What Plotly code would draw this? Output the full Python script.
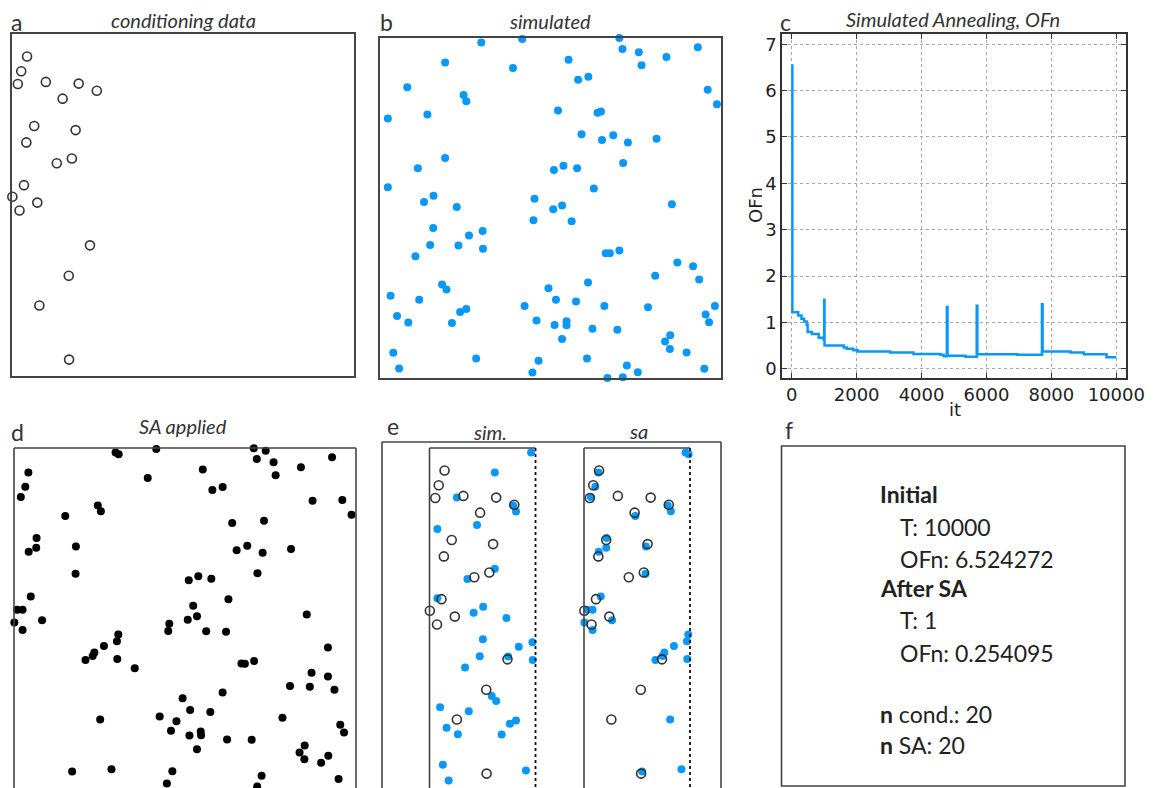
import plotly.graph_objects as go

W, H = 1154, 788

# ---------------- data ----------------
# conditioning data (domain units 0..100)
cond_x = [4.4, 2.7, 1.7, 9.9, 19.5, 24.8, 14.8, 6.5, 18.6, 4.2, 13.1, 17.5, 3.5, 0.1, 7.4, 2.2, 22.8, 16.6, 8.0, 16.7]
cond_y = [93.4, 89.1, 85.4, 86.0, 85.5, 83.4, 81.1, 73.1, 71.9, 68.3, 62.2, 63.6, 55.8, 52.4, 50.7, 48.4, 38.2, 29.3, 20.6, 4.8]

# simulated points
sim_x = [29.7, 41.7, 70.2, 71.1, 75.9, 76.7, 84.0, 93.2, 19.1, 39.0, 55.3, 58.1, 61.1, 8.0, 24.5, 25.3, 96.1, 98.8, 2.3, 13.9,
         52.2, 63.8, 64.8, 59.1, 65.1, 68.4, 72.7, 81.1, 19.1, 11.1, 51.0, 53.8, 57.8, 71.3, 2.3, 62.7, 12.9, 15.7, 22.5, 45.3,
         50.8, 53.4, 45.0, 56.2, 85.6, 15.6, 26.1, 30.1, 30.2, 14.7, 23.0, 10.4, 66.2, 67.4, 70.2, 87.2, 91.8, 93.6, 80.7, 61.0,
         18.2, 19.5, 49.4, 3.1, 11.5, 51.6, 57.5, 65.8, 78.6, 98.2, 42.4, 5.0, 8.3, 21.1, 23.5, 25.3, 45.9, 51.2, 54.7, 54.7,
         62.3, 69.6, 95.5, 96.5, 53.4, 85.1, 83.6, 85.0, 89.9, 3.9, 5.6, 28.2, 46.5, 44.7, 60.7, 72.4, 75.6, 66.7, 71.2, 95.1]
sim_y = [98.7, 99.7, 100.0, 96.8, 95.8, 92.0, 94.4, 97.3, 92.8, 91.2, 93.6, 87.7, 88.6, 85.5, 83.2, 81.4, 84.8, 80.5, 76.3, 77.5,
         78.7, 78.0, 78.4, 71.7, 70.0, 71.4, 69.3, 70.4, 64.7, 61.7, 61.2, 62.4, 61.7, 63.2, 56.1, 55.7, 51.8, 53.6, 50.3, 52.7,
         49.6, 50.7, 46.4, 46.1, 51.1, 44.1, 41.9, 43.2, 38.0, 39.1, 39.0, 35.8, 36.7, 36.7, 37.5, 34.0, 32.9, 29.0, 30.1, 28.1,
         27.5, 26.0, 26.4, 24.2, 23.0, 23.0, 22.5, 21.2, 20.8, 21.2, 21.2, 18.2, 16.3, 16.2, 19.4, 20.3, 16.9, 15.6, 16.7, 15.5,
         14.5, 14.2, 18.7, 16.4, 11.5, 12.6, 10.7, 8.5, 7.5, 7.4, 2.8, 5.7, 5.1, 1.6, 5.7, 3.7, 1.7, 0.0, 0.2, 2.7]

# points after simulated annealing
sa_x = [29.7, 30.6, 41.6, 70.1, 73.6, 71.0, 75.9, 76.5, 83.9, 93.0, 55.2, 39.1, 58.0, 61.0, 4.2, 3.3, 2.0, 87.3, 96.0, 98.7,
        15.0, 24.5, 25.4, 63.8, 73.1, 6.6, 6.5, 4.3, 18.1, 65.1, 68.2, 72.7, 81.0, 18.0, 71.2, 51.1, 53.9, 57.7, 4.9, 62.7,
        0.9, 2.5, 0.1, 8.2, 2.5, 52.4, 50.8, 53.5, 45.4, 45.1, 56.2, 62.0, 85.6, 30.5, 30.1, 26.3, 23.5, 23.0, 20.9, 30.2,
        35.3, 66.5, 67.5, 70.2, 91.8, 87.0, 91.8, 93.7, 80.7, 86.5, 61.0, 49.3, 51.5, 57.4, 42.6, 47.5, 45.9, 51.3, 54.6, 54.7,
        62.3, 69.5, 78.5, 95.4, 96.5, 25.2, 53.5, 85.0, 83.5, 84.9, 89.8, 91.9, 17.0, 28.5, 46.3, 44.7, 72.4, 71.1, 94.9]
sa_y = [98.7, 98.2, 99.7, 99.9, 99.2, 96.8, 95.8, 92.0, 94.4, 97.3, 93.7, 91.2, 87.7, 88.6, 92.8, 88.7, 85.7, 84.6, 84.8, 80.5,
        80.1, 83.2, 81.5, 78.1, 78.7, 73.7, 70.8, 69.7, 71.2, 70.1, 71.4, 69.4, 70.5, 63.2, 63.4, 61.3, 62.5, 61.8, 56.6, 55.8,
        52.7, 52.7, 49.0, 49.6, 46.8, 53.9, 49.8, 50.8, 48.6, 46.5, 46.4, 46.3, 51.3, 45.5, 43.5, 42.1, 40.2, 39.2, 38.0, 38.3,
        35.6, 37.0, 36.9, 37.7, 41.7, 34.3, 33.2, 29.3, 30.4, 30.2, 28.5, 26.8, 23.4, 22.8, 21.5, 20.1, 17.3, 15.9, 17.1, 16.0,
        14.8, 14.7, 21.1, 19.1, 16.8, 20.6, 11.9, 13.0, 11.0, 9.0, 8.0, 10.0, 5.4, 6.1, 5.5, 1.9, 4.2, 1.0, 3.2]

# simulated annealing objective function
iters = [0, 20, 200, 300, 380, 460, 490, 620, 830, 980, 1000, 1010, 1600, 1700, 1900, 2030, 3030, 3750, 4580, 4680,
         4780, 4800, 5350, 5700, 5720, 6950, 7710, 7730, 8590, 9000, 9700, 10000]
ofn = [6.54, 1.22, 1.15, 1.08, 1.02, 0.95, 0.79, 0.75, 0.67, 0.63, 1.49, 0.50, 0.46, 0.43, 0.40, 0.37, 0.35, 0.32, 0.30, 0.27,
       1.33, 0.28, 0.26, 1.36, 0.31, 0.30, 1.39, 0.37, 0.35, 0.31, 0.25, 0.25]
x_ticks = [0, 2000, 4000, 6000, 8000, 10000]
x_tick_labels = ["0", "2000", "4000", "6000", "8000", "10000"]
y_ticks = [0, 1, 2, 3, 4, 5, 6, 7]

# summary values
temp_initial = 10000
ofn_initial = "6.524272"
temp_final = 1
ofn_final = "0.254095"
n_cond = 20
n_sa = 20

zoom_xmax = 31  # extent shown in panel e

# ---------------- helpers ----------------
def px(x):
    return x / W

def py(y):
    return 1 - y / H

BLUE = "#0a98f8"
FRAME = "#444444"
TXT = "#333333"
FONT = "Lato"

fig = go.Figure()

# panel a
fig.add_trace(go.Scatter(x=cond_x, y=cond_y, mode="markers", xaxis="x", yaxis="y",
                         marker=dict(symbol="circle-open", size=9, color="#333", line=dict(width=1.6)),
                         cliponaxis=False, showlegend=False))
# panel b
fig.add_trace(go.Scatter(x=sim_x, y=sim_y, mode="markers", xaxis="x2", yaxis="y2",
                         marker=dict(size=8, color=BLUE), cliponaxis=False, showlegend=False))
# panel c
fig.add_trace(go.Scatter(x=iters, y=ofn, mode="lines", xaxis="x3", yaxis="y3", line_shape="hv",
                         line=dict(color=BLUE, width=2.5), showlegend=False))
# panel d
fig.add_trace(go.Scatter(x=sa_x, y=sa_y, mode="markers", xaxis="x4", yaxis="y4",
                         marker=dict(size=8, color="black"), cliponaxis=False, showlegend=False))
# panel e (sim.)
ex = [x for x in sim_x if x <= zoom_xmax]
ey = [y for x, y in zip(sim_x, sim_y) if x <= zoom_xmax]
fig.add_trace(go.Scatter(x=ex, y=ey, mode="markers", xaxis="x5", yaxis="y5",
                         marker=dict(size=8, color=BLUE), cliponaxis=False, showlegend=False))
fig.add_trace(go.Scatter(x=cond_x, y=cond_y, mode="markers", xaxis="x5", yaxis="y5",
                         marker=dict(symbol="circle-open", size=9, color="#333", line=dict(width=1.6)),
                         cliponaxis=False, showlegend=False))
# panel e (sa)
ex2 = [x for x in sa_x if x <= zoom_xmax]
ey2 = [y for x, y in zip(sa_x, sa_y) if x <= zoom_xmax]
fig.add_trace(go.Scatter(x=ex2, y=ey2, mode="markers", xaxis="x6", yaxis="y6",
                         marker=dict(size=8, color=BLUE), cliponaxis=False, showlegend=False))
fig.add_trace(go.Scatter(x=cond_x, y=cond_y, mode="markers", xaxis="x6", yaxis="y6",
                         marker=dict(symbol="circle-open", size=9, color="#333", line=dict(width=1.6)),
                         cliponaxis=False, showlegend=False))

blank = dict(showticklabels=False, ticks="", showgrid=False, zeroline=False, automargin=False)
boxed = dict(showline=True, mirror=True, linecolor=FRAME, linewidth=1.6)
tickfont = dict(family="DejaVu Sans", size=18, color="#222")

layout = dict(
    width=W, height=H, autosize=False, margin=dict(l=0, r=0, t=0, b=0, autoexpand=False),
    paper_bgcolor="white", plot_bgcolor="white",
    xaxis=dict(domain=[px(12), px(354)], range=[0, 100], **blank, **boxed),
    yaxis=dict(domain=[py(376), py(34)], range=[0, 100], **blank, **boxed),
    xaxis2=dict(domain=[px(380), px(721)], range=[0, 100], anchor="y2", **blank, **boxed),
    yaxis2=dict(domain=[py(378), py(38)], range=[0, 100], anchor="x2", **blank, **boxed),
    xaxis3=dict(domain=[px(782), px(1126)], range=[-300, 10300], anchor="y3", tickvals=x_ticks,
                ticktext=x_tick_labels, automargin=False,
                ticks="inside", ticklen=5, tickcolor="#333", showline=True, mirror="ticks",
                linecolor="#333", linewidth=1.6, showgrid=True, gridcolor="#a8a8a8", griddash="dot",
                gridwidth=1, zeroline=False, tickfont=tickfont),
    yaxis3=dict(domain=[py(378), py(34)], range=[-0.2, 7.22], anchor="x3", tickvals=y_ticks,
                automargin=False,
                ticks="inside", ticklen=5, tickcolor="#333", showline=True, mirror="ticks",
                linecolor="#333", linewidth=1.6, showgrid=True, gridcolor="#a8a8a8", griddash="dot",
                gridwidth=1, zeroline=False, tickfont=tickfont),
    xaxis4=dict(domain=[px(14), px(356)], range=[0, 100], anchor="y4", **blank),
    yaxis4=dict(domain=[0, py(448)], range=[100 - 340 / 3.42, 100], anchor="x4", **blank),
    xaxis5=dict(domain=[px(429.5), px(535.5)], range=[0, zoom_xmax], anchor="y5", **blank),
    yaxis5=dict(domain=[0, py(448)], range=[100 - 340 / 3.42, 100], anchor="x5", **blank),
    xaxis6=dict(domain=[px(584), px(690)], range=[0, zoom_xmax], anchor="y6", **blank),
    yaxis6=dict(domain=[0, py(448)], range=[100 - 340 / 3.42, 100], anchor="x6", **blank),
)
fig.update_layout(**layout)

shapes = []
def seg(x0, y0, x1, y1, xref, yref, dash="solid", color=FRAME, width=1.6):
    shapes.append(dict(type="line", x0=x0, y0=y0, x1=x1, y1=y1, xref=xref, yref=yref,
                       line=dict(color=color, width=width, dash=dash)))

# panel d frame (bottom cut)
seg(0, 0, 0, 1, "x4 domain", "y4 domain")
seg(0, 1, 1, 1, "x4 domain", "y4 domain")
seg(1, 1, 1, 0, "x4 domain", "y4 domain")
# panel e outer frame
seg(px(382), py(442), px(382), 0, "paper", "paper")
seg(px(382), py(442), px(721), py(442), "paper", "paper")
seg(px(721), py(442), px(721), 0, "paper", "paper")
# panel e inner frames
for xa, ya in (("x5 domain", "y5 domain"), ("x6 domain", "y6 domain")):
    seg(0, 0, 0, 1, xa, ya)
    seg(0, 1, 1, 1, xa, ya)
    seg(1, 1, 1, 0, xa, ya, dash="dot", color="#111", width=1.8)
# panel f frame
shapes.append(dict(type="rect", x0=px(781.5), y0=py(786), x1=px(1125), y1=py(446), xref="paper", yref="paper",
                   line=dict(color=FRAME, width=1.6)))
fig.update_layout(shapes=shapes)

ann = []
def text(x, y, s, size=17, italic=False, xanchor="center", family=FONT, color=TXT, angle=0):
    ann.append(dict(x=px(x), y=py(y), xref="paper", yref="paper", text=s, showarrow=False,
                    xanchor=xanchor, yanchor="middle", textangle=angle,
                    font=dict(family=family, size=size, color=color,
                              style="italic" if italic else "normal")))

# panel letters
text(16, 22, "a", size=23)
text(386, 22, "b", size=23)
text(785, 22, "c", size=23)
text(17, 432, "d", size=23)
text(393, 426, "e", size=23)
text(789, 430, "f", size=23)
# titles
text(183, 20, "conditioning data", size=20, italic=True)
text(550, 21, "simulated", size=20, italic=True)
text(953, 19, "Simulated Annealing, OFn", size=20, italic=True)
text(183, 426, "SA applied", size=20, italic=True)
text(490, 432, "sim.", size=20, italic=True)
text(638, 431, "sa", size=20, italic=True)
# axis titles of panel c
text(955, 409, "it", size=18, family="DejaVu Sans", color="#222")
text(755, 205, "OFn", size=18, family="DejaVu Sans", color="#222", angle=-90)
# panel f text
fx0, fx1 = 878, 898
fs = 23
text(fx0, 494, "<b>Initial</b>", size=fs, xanchor="left", color="#222")
text(fx1, 527, f"T: {temp_initial}", size=fs, xanchor="left", color="#222")
text(fx1, 559, f"OFn: {ofn_initial}", size=fs, xanchor="left", color="#222")
text(fx0, 588, "<b>After SA</b>", size=fs, xanchor="left", color="#222")
text(fx1, 620, f"T: {temp_final}", size=fs, xanchor="left", color="#222")
text(fx1, 653, f"OFn: {ofn_final}", size=fs, xanchor="left", color="#222")
text(fx0, 714, f"<b>n</b> cond.: {n_cond}", size=fs, xanchor="left", color="#222")
text(fx0, 745, f"<b>n</b> SA: {n_sa}", size=fs, xanchor="left", color="#222")
fig.update_layout(annotations=ann)

fig.write_html("out.html")
